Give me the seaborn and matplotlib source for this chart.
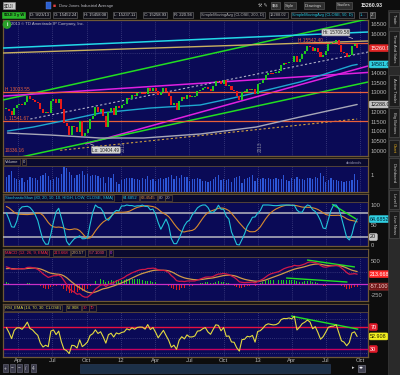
import numpy as np
import pandas as pd
import matplotlib
matplotlib.use("Agg")
import matplotlib.pyplot as plt
import matplotlib.dates as mdates
import matplotlib.transforms as mtransforms
from matplotlib.patches import Rectangle
import seaborn as sns

# ---------------- data (weekly $DJI) ----------------
warmup_close = [10448, 10462, 10608, 10860, 10830, 11006, 11062, 11133, 11118,
                11444, 11192, 11204, 11092, 11382, 11410, 11492, 11573, 11578,
                11675, 11787, 11871, 11824, 12092, 12273, 12391, 12130]
first_open = 12130.45
weekly_close = [
    # 2011
    12170, 12044, 11858, 12221, 12376, 12380, 12341, 12505, 12811, 12638, 12596,
    12512, 12441, 12151, 11952, 12004, 11934, 12582, 12657, 12479, 12681, 12143,
    11444, 11269, 10817, 11284, 11240, 10992, 11509, 10771, 10913, 11103, 11644,
    11809, 12231, 11983, 12153, 11796, 11231, 12019, 12184, 11866, 12294, 12218,
    # 2012
    12360, 12422, 12720, 12660, 12862, 12801, 12950, 12983, 12978, 12922, 13233,
    13081, 13212, 13060, 12850, 13029, 13228, 13038, 12820, 12369, 12455, 12119,
    12554, 12767, 12640, 12880, 12772, 12777, 12822, 13075, 13096, 13207, 13275,
    13157, 13090, 13306, 13593, 13579, 13437, 13610, 13328, 13343, 13107, 13093,
    12815, 12588, 13010, 13026, 13155, 13135, 13190, 12938,
    # 2013
    13435, 13488, 13650, 13896, 14010, 13993, 13981, 14001, 14090, 14397, 14515,
    14512, 14579, 14565, 14865, 14547, 14712, 14974, 15118, 15354, 15303, 15116,
    15248, 15070, 14800, 14910, 15135, 15464, 15544, 15559, 15659, 15425, 15081,
    15010, 14810, 14922, 15376, 15452, 15258.93]
weekly_volume = [
    6.0, 7.2, 8.5, 5.8, 5.5, 5.0, 5.6, 4.2, 5.0, 6.2, 5.8, 5.9, 4.8, 6.5, 7.0,
    7.8, 6.4, 5.0, 5.4, 6.0, 5.8, 7.5, 10.5, 9.8, 8.4, 6.8, 5.6, 6.8, 7.4, 8.6,
    7.0, 7.6, 6.4, 6.9, 7.2, 6.6, 5.6, 6.0, 3.8, 6.2, 5.8, 7.4, 4.0, 3.2,
    5.0, 5.4, 5.9, 5.6, 5.8, 5.5, 5.2, 4.8, 5.6, 5.4, 6.6, 5.0, 5.2, 4.6, 5.4,
    5.6, 5.2, 5.8, 6.0, 7.2, 5.4, 6.4, 5.8, 6.8, 6.0, 6.2, 4.6, 5.2, 5.4, 5.8,
    5.4, 4.6, 4.4, 4.2, 4.6, 5.2, 6.0, 6.8, 5.0, 5.2, 4.8, 5.4, 4.2, 5.6, 6.0,
    6.4, 3.8, 5.4, 5.6, 6.2, 7.0, 4.4,
    5.6, 5.2, 5.8, 5.4, 5.6, 5.2, 5.4, 5.6, 5.2, 5.4, 6.8, 5.0, 4.4, 5.6, 5.2,
    6.2, 5.2, 5.4, 5.0, 5.6, 5.8, 5.2, 6.0, 5.8, 8.0, 6.4, 4.2, 5.0, 5.6, 4.8,
    5.0, 4.4, 4.6, 4.2, 4.4, 4.6, 4.8, 7.6, 5.0]

sma50_dates = ['2011-03-03', '2011-05-11', '2011-08-10', '2011-11-06', '2012-03-19',
               '2012-07-30', '2012-10-26', '2013-01-25', '2013-04-23', '2013-09-09',
               '2013-09-23']
sma50_vals = [11022, 11226, 11585, 11943, 12199, 12353, 12711, 13120, 13530, 14380, 14430]
sma200_dates = ['2011-03-03', '2011-06-25', '2011-11-06', '2012-03-01', '2012-07-30',
                '2012-12-27', '2013-04-23', '2013-09-23']
sma200_vals = [10919, 10817, 10663, 10663, 10868, 11226, 11738, 12380]

# drawn trendlines: (dates, prices)
cyan_trend = (['2011-02-19', '2013-10-22'], [15270, 16090])
tan_trend = (['2011-02-19', '2013-10-22'], [15015, 15630])
green_upper = (['2011-02-19', '2013-10-22'], [12610, 16760])
magenta_upper = (['2011-02-19', '2013-10-22'], [12810, 14020])
magenta_lower = (['2011-09-27', '2013-10-22'], [10356, 14350])
green_lower = (['2011-02-19', '2013-10-22'], [9490, 13530])
tan_dashed = (['2011-07-22', '2013-09-23'], [10034, 11636])
gray_dashed = (['2011-05-03', '2013-10-22'], [11636, 15066])
level_high_recent = (['2013-04-17', '2013-10-22'], [15542.40, 15542.40])
level_high_old = 13033.55
level_low_old = 11541.67
hi_point = ('2013-09-18', 15709.58)
lo_point = ('2011-10-04', 10404.49)
stoch_trend = (['2013-07-18', '2013-09-20'], [102, 65])
macd_trend_1 = (['2013-05-12', '2013-09-17'], [522, 370])
macd_trend_2 = (['2013-03-17', '2013-08-28'], [130, 43])
rsi_trend = (['2013-03-30', '2013-09-26'], [90, 66])

quarter_dates = ['2011-04-01', '2011-07-01', '2011-10-01', '2012-01-01', '2012-04-01',
                 '2012-07-01', '2012-10-01', '2013-01-01', '2013-04-01', '2013-07-01',
                 '2013-10-01']
quarter_labels = ['Apr', 'Jul', 'Oct', '12', 'Apr', 'Jul', 'Oct', '13', 'Apr', 'Jul', 'Oct']
price_ticks = [16500, 16000, 14000, 13500, 13000, 12000, 11500, 11000, 10500, 10000]

# ---------------- style ----------------
sns.set_style("dark")
plt.rcParams['font.family'] = ['Liberation Sans', 'DejaVu Sans']
plt.rcParams['axes.grid'] = False

W, H = 400, 375
BGC = '#0d0d0d'
NAVY = '#0a0a56'
BORDER = '#6e5836'
GRID = '#5a5a96'
TICK = '#b4b4b4'
HDR = '#0a0a2e'

fig = plt.figure(figsize=(W / 100, H / 100), dpi=100, facecolor=BGC)


def prect(x0, y0, x1, y1):
    return [x0 / W, 1 - y1 / H, (x1 - x0) / W, (y1 - y0) / H]


def fx(x):
    return x / W


def fy(y):
    return 1 - y / H


def dn(d):
    return mdates.date2num(pd.to_datetime(d))


X0, X1 = dn('2011-02-19'), dn('2013-10-22')
dates = pd.date_range('2011-02-28', periods=len(weekly_close), freq='W-MON')
warm_dates = pd.date_range(end='2011-02-21', periods=len(warmup_close), freq='W-MON')
xs = mdates.date2num(dates)
qx = dn(quarter_dates)

# indicators computed from the closes
close_all = pd.Series(warmup_close + weekly_close, index=warm_dates.append(dates), dtype=float)
lo_r = close_all.rolling(10, min_periods=1).min()
hi_r = close_all.rolling(10, min_periods=1).max()
fastk = 100 * (close_all - lo_r) / (hi_r - lo_r).replace(0, np.nan)
slowk = fastk.rolling(3, min_periods=1).mean()
slowd = slowk.rolling(10, min_periods=1).mean()
ema12 = close_all.ewm(span=12, adjust=False).mean()
ema26 = close_all.ewm(span=26, adjust=False).mean()
macd_val = ema12 - ema26
macd_avg = macd_val.ewm(span=9, adjust=False).mean()
macd_diff = macd_val - macd_avg
chg = close_all.diff().fillna(0)
rsi = 50 * (chg.ewm(span=14, adjust=False).mean() / chg.abs().ewm(span=14, adjust=False).mean() + 1)
n0 = len(warmup_close)
slowk, slowd = slowk.iloc[n0:].values, slowd.iloc[n0:].values
macd_val, macd_avg, macd_diff = macd_val.iloc[n0:].values, macd_avg.iloc[n0:].values, macd_diff.iloc[n0:].values
rsi = rsi.iloc[n0:].values


def style_panel(ax, ylim, ygrid):
    ax.set_facecolor(NAVY)
    ax.set_xlim(X0, X1)
    ax.set_ylim(*ylim)
    for s in ax.spines.values():
        s.set_color(BORDER)
        s.set_linewidth(0.9)
    ax.yaxis.tick_right()
    ax.tick_params(axis='y', colors=TICK, labelsize=4.2, length=0, pad=2)
    ax.set_xticks(qx)
    ax.set_xticklabels([])
    ax.tick_params(axis='x', length=0, labelbottom=False)
    ax.grid(axis='x', which='major', color=GRID, ls=(0, (1, 2)), lw=0.5)
    ax.set_yticks(ygrid, minor=True)
    ax.tick_params(axis='y', which='minor', length=0)
    ax.grid(axis='y', which='minor', color=GRID, ls=(0, (1, 2)), lw=0.5)


def tag(ax, y, text, fc, tc, ec=None):
    tr = mtransforms.blended_transform_factory(ax.transAxes, ax.transData)
    ax.text(1.006, y, text, transform=tr, fontsize=3.9, color=tc, va='center', ha='left',
            clip_on=False, zorder=20,
            bbox=dict(boxstyle='round,pad=0.18,rounding_size=0.25', fc=fc, ec=ec or fc, lw=0.4))


def hbox(x, y, s, color, fc=HDR, ec=BORDER, size=3.0, weight='normal'):
    fig.text(fx(x), fy(y), s, fontsize=size, color=color, va='center', ha='left', weight=weight,
             bbox=dict(boxstyle='square,pad=0.25', fc=fc, ec=ec, lw=0.4), zorder=30)


def strip(ax, h_px, panel_h_px):
    ax.add_patch(Rectangle((0, 1 - h_px / panel_h_px), 1, h_px / panel_h_px, transform=ax.transAxes,
                           fc=HDR, ec=BORDER, lw=0.5, zorder=6))


def tline(ax, seg, color, lw=1.0, ls='-'):
    ax.plot(dn(seg[0]), seg[1], color=color, lw=lw, ls=ls, zorder=3, solid_capstyle='butt')


# ---------------- price panel ----------------
ax_p = fig.add_axes(prect(3, 20, 368, 156))
style_panel(ax_p, (9742, 16705), [16000, 15000, 14000, 13000, 12000, 11000, 10000])
ax_p.set_yticks(price_ticks)
ax_p.set_yticklabels([str(t) for t in price_ticks])

tline(ax_p, green_upper, '#22dd22', 1.1)
tline(ax_p, cyan_trend, '#22d8e8', 1.1)
tline(ax_p, tan_trend, '#c8b060', 1.0)
tline(ax_p, magenta_upper, '#e020e0', 1.1)
tline(ax_p, magenta_lower, '#e020e0', 1.1)
tline(ax_p, green_lower, '#22dd22', 1.1)
tline(ax_p, tan_dashed, '#d0a040', 0.8, (0, (2, 2)))
tline(ax_p, gray_dashed, '#b0b0c8', 0.8, (0, (2, 2)))
ax_p.axhline(level_high_old, color='#e8603a', lw=0.9, zorder=3)
ax_p.axhline(level_low_old, color='#e8603a', lw=0.9, zorder=3)
tline(ax_p, level_high_recent, '#e8603a', 0.9)
sns.lineplot(x=dn(sma50_dates), y=sma50_vals, ax=ax_p, color='#1ea8d0', lw=1.0, legend=False, zorder=3)
sns.lineplot(x=dn(sma200_dates), y=sma200_vals, ax=ax_p, color='#a8a8b8', lw=1.0, legend=False, zorder=3)

opens = np.array([first_open] + weekly_close[:-1], dtype=float)
closes = np.array(weekly_close, dtype=float)
up = closes >= opens
body = np.where(np.abs(closes - opens) < 45, np.where(up, 45, -45), closes - opens)
ax_p.bar(xs, body, bottom=opens, width=5.4, color=np.where(up, '#1ec81e', '#e81a1a'), lw=0, zorder=4)

ax_p.text(0.005, level_high_old, 'H 13033.55', color='#e8603a', fontsize=3.4, va='bottom', ha='left',
          transform=mtransforms.blended_transform_factory(ax_p.transAxes, ax_p.transData), zorder=8)
ax_p.text(0.005, level_low_old, 'L 11541.67', color='#e8603a', fontsize=3.4, va='bottom', ha='left',
          transform=mtransforms.blended_transform_factory(ax_p.transAxes, ax_p.transData), zorder=8)
ax_p.text(dn(level_high_recent[0][0]), level_high_recent[1][0], 'H 15542.40', color='#e8603a',
          fontsize=3.4, va='bottom', ha='left', zorder=8)
ax_p.text(0.005, 0.02, '10336.16', color='#e8603a', fontsize=3.4, va='bottom', ha='left',
          transform=ax_p.transAxes, zorder=8)

ax_p.annotate('Hi: 15709.58', xy=(dn(hi_point[0]), hi_point[1]), xytext=(-14, 5), textcoords='offset points',
              fontsize=3.3, color='#202020', ha='center', va='center', zorder=12,
              bbox=dict(boxstyle='round,pad=0.2', fc='#d4d4d4', ec='#909090', lw=0.4),
              arrowprops=dict(arrowstyle='-', color='#d0d0d0', lw=0.5))
ax_p.annotate('Lo: 10404.49', xy=(dn(lo_point[0]), lo_point[1]), xytext=(13, -5), textcoords='offset points',
              fontsize=3.3, color='#202020', ha='center', va='center', zorder=12,
              bbox=dict(boxstyle='round,pad=0.2', fc='#d4d4d4', ec='#909090', lw=0.4),
              arrowprops=dict(arrowstyle='-', color='#d0d0d0', lw=0.5))
for yr in ['2012', '2013']:
    ax_p.text(dn(yr + '-01-01'), 0.03, yr, rotation=90, color='#8a8aa0', fontsize=3.4,
              ha='left', va='bottom', transform=mtransforms.blended_transform_factory(ax_p.transData, ax_p.transAxes))

tag(ax_p, 15260.93, '15260.93', '#e02424', '#ffffff')
tag(ax_p, sma50_vals[-1], '14581.61', '#30d0e2', '#002030')
tag(ax_p, sma200_vals[-1], '12288.02', '#c4c4c4', '#101010')

fig.text(fx(7), fy(24.5), 'i', fontsize=3.4, color='white', weight='bold', ha='center', va='center',
         bbox=dict(boxstyle='circle,pad=0.25', fc='#2aa02a', ec='#2aa02a'))
fig.text(fx(11), fy(24.5), '2013 \u00a9 TD Ameritrade IP Company, Inc.', fontsize=3.0, color='#c0c0c8',
         ha='left', va='center')

# ---------------- volume panel ----------------
ax_v = fig.add_axes(prect(3, 158, 368, 192))
style_panel(ax_v, (0, 14), [])
ax_v.bar(xs, weekly_volume, width=3.2, color='#2c56d8', lw=0, zorder=4)
ax_v.set_yticks([7])
ax_v.set_yticklabels(['1'])
strip(ax_v, 8, 34)
ax_v.text(0.985, 0.86, 'dividends', transform=ax_v.transAxes, fontsize=2.8, color='#9090b0', ha='right',
          va='center', zorder=8)

# ---------------- stochastic panel ----------------
ax_s = fig.add_axes(prect(3, 194, 368, 246))
style_panel(ax_s, (-2.5, 127.5), [100, 50, 0])
ax_s.set_yticks([100, 50, 0])
ax_s.set_yticklabels(['100', '50', '0'])
ax_s.axhline(80, color='#b8b8c0', lw=1.1, zorder=3)
ax_s.axhline(20, color='#b8b8c0', lw=1.1, zorder=3)
sns.lineplot(x=xs, y=slowd, ax=ax_s, color='#d88a2e', lw=0.8, legend=False, zorder=4)
sns.lineplot(x=xs, y=slowk, ax=ax_s, color='#22c4d8', lw=0.8, legend=False, zorder=5)
tline(ax_s, stoch_trend, '#22e022', 1.0)
strip(ax_s, 8, 52)
tag(ax_s, 64.6852, '64.6852', '#30d0e2', '#002030')
tag(ax_s, 20, '20', '#c8c8c8', '#101010')

# ---------------- MACD panel ----------------
ax_m = fig.add_axes(prect(3, 249, 368, 301))
style_panel(ax_m, (-370, 761), [500, 250, -250])
ax_m.set_yticks([500, -250])
ax_m.set_yticklabels(['500', '-250'])
ax_m.bar(xs, macd_diff, width=2.6, color=np.where(macd_diff >= 0, '#22c822', '#e01c1c'), lw=0, zorder=3)
ax_m.axhline(0, color='#c830c8', lw=0.9, zorder=4)
sns.lineplot(x=xs, y=macd_avg, ax=ax_m, color='#d09a48', lw=0.9, legend=False, zorder=5)
sns.lineplot(x=xs, y=macd_val, ax=ax_m, color='#d01848', lw=0.9, legend=False, zorder=6)
tline(ax_m, macd_trend_1, '#22e022', 1.0)
tline(ax_m, macd_trend_2, '#22e022', 1.0)
strip(ax_m, 8, 52)
tag(ax_m, 213.668, '213.668', '#ff2828', '#ffffff')
tag(ax_m, -57.1, '-57.100', '#701818', '#ffd8d8', '#c04040')

# ---------------- RSI panel ----------------
ax_r = fig.add_axes(prect(3, 304, 368, 357))
style_panel(ax_r, (15.5, 111.8), [85, 50, 22])
ax_r.set_yticks([])
ax_r.axhline(70, color='#e81040', lw=1.0, zorder=3)
ax_r.axhline(30, color='#c80060', lw=1.0, zorder=3)
sns.lineplot(x=xs, y=rsi, ax=ax_r, color='#e2da40', lw=0.8, legend=False, zorder=5)
tline(ax_r, rsi_trend, '#22e022', 1.0)
strip(ax_r, 8, 53)
tag(ax_r, 70, '70', '#e01828', '#ffffff')
tag(ax_r, 52.908, '52.908', '#f2f020', '#202000')
tag(ax_r, 30, '30', '#e01828', '#ffffff')
ax_r.set_xticklabels(quarter_labels)
ax_r.tick_params(axis='x', labelbottom=True, labelsize=4.2, colors=TICK, pad=0.8)

# ---------------- panel headers ----------------
hbox(5, 162, 'Volume', '#c8c8c8')
hbox(23, 162, '0', '#c8c8c8')
hbox(5, 198, 'StochasticSlow (80, 20, 10, 10, HIGH, LOW, CLOSE, SMA)', '#22c8dc')
hbox(123, 198, '64.6852', '#22c8dc')
hbox(141, 198, '63.4545', '#e09038')
hbox(159, 198, '80', '#b0b0b0')
hbox(166, 198, '20', '#b0b0b0')
hbox(5, 253, 'MACD (12, 26, 9, EMA)', '#ff3040')
hbox(54, 253, '213.668', '#ff3040')
hbox(72, 253, '270.57', '#e0b060')
hbox(89, 253, '-57.1030', '#ff5060')
hbox(110, 253, '0', '#e040e0')
hbox(5, 308, 'RSI_EMA (14, 70, 30, CLOSE)', '#e8e040')
hbox(67, 308, '52.908', '#e8e040')
hbox(83, 308, '30', '#ff3040')
hbox(90, 308, '70', '#ff3040')

# ---------------- top toolbar / info row ----------------
fig.text(fx(4), fy(5.5), '$DJI', fontsize=3.4, color='#202020', va='center', ha='left',
         bbox=dict(boxstyle='square,pad=0.3', fc='#d0d0d0', ec='#909090', lw=0.4))
fig.patches.append(Rectangle((fx(46), fy(9)), fx(5), 7 / H, transform=fig.transFigure, fc='#2a60d0',
                             ec='#6080e0', lw=0.3))
fig.text(fx(53), fy(5.5), '\u25a0', fontsize=3.6, color='#e04040', va='center', ha='left')
fig.text(fx(59), fy(5.5), 'Dow Jones Industrial Average', fontsize=3.0, color='#b8b8c0', va='center', ha='left')
for x, s in [(272, '$$$'), (285, 'Style'), (305, 'Drawings'), (337, 'Studies')]:
    fig.text(fx(x), fy(5.5), s, fontsize=3.0, color='#d0d0d0', va='center', ha='left',
             bbox=dict(boxstyle='square,pad=0.3', fc='#2e2e2e', ec='#606060', lw=0.4))
fig.text(fx(258), fy(5.5), '\u2692 \u270e', fontsize=3.4, color='#c0c0c0', va='center', ha='left')
fig.text(fx(361), fy(5.5), '15260.93', fontsize=3.8, color='#e8e8e8', weight='bold', va='center', ha='left')

hbox(3.5, 15, '$DJI 3 y W', '#0a0a0a', fc='#2ab82a', ec='#2ab82a', size=3.0, weight='bold')
for x, s in [(30, 'D: 9/23/13'), (54, 'O: 15452.24'), (84, 'H: 15458.08'), (114, 'L: 15237.11'),
             (144, 'C: 15258.93'), (174, 'R: 220.94')]:
    hbox(x, 15, s, '#d0d0d0', fc='#101018', ec='#707070', size=3.0)
hbox(201, 15, 'SimpleMovingAvg (CLOSE, 200, D)', '#b0b0b0', fc='#101018', ec='#707070', size=2.9)
hbox(270, 15, '12288.02', '#b0b0b0', fc='#101018', ec='#707070', size=2.9)
hbox(292, 15, 'SimpleMovingAvg (CLOSE, 50, D)', '#22c8dc', fc='#101018', ec='#707070', size=2.9)
hbox(360, 15, '1...', '#22c8dc', fc='#101018', ec='#707070', size=2.9)
hbox(371, 15, 'Z', '#e0e0e0', fc='#303030', ec='#909090', size=3.0)

# ---------------- right tab strip ----------------
fig.patches.append(Rectangle((fx(388), 0), fx(12), fy(10), transform=fig.transFigure, fc='#2a2a2a',
                             ec='#444444', lw=0.4, zorder=1))
for (y0, y1, s, c) in [(12, 27, 'Trade', '#c8c8c8'), (31, 66, 'Time And Sales', '#c8c8c8'),
                       (75, 106, 'Active Trader', '#c8c8c8'), (108, 137, 'Big Buttons', '#c8c8c8'),
                       (140, 156, 'Chart', '#e8b020'), (158, 188, 'Dashboard', '#c8c8c8'),
                       (190, 209, 'Level II', '#c8c8c8'), (211, 238, 'Live News', '#c8c8c8')]:
    fig.patches.append(Rectangle((fx(389), fy(y1)), fx(10), (y1 - y0) / H, transform=fig.transFigure,
                                 fc='#1c1c1c', ec='#555555', lw=0.4, zorder=2))
    fig.text(fx(394), fy((y0 + y1) / 2), s, rotation=270, fontsize=3.0, color=c, ha='center', va='center',
             zorder=3)

# ---------------- bottom toolbar ----------------
for x, s in [(4, '+'), (11, '\u2212'), (18, '\u2212'), (25, '/'), (32, '4')]:
    fig.text(fx(x), fy(368), s, fontsize=3.4, color='#d0d0d0', va='center', ha='left',
             bbox=dict(boxstyle='square,pad=0.3', fc='#3a3a4a', ec='#707080', lw=0.4))
fig.patches.append(Rectangle((fx(80), fy(373)), fx(250), 9 / H, transform=fig.transFigure, fc='#1c3048',
                             ec='#2c4060', lw=0.4))
fig.text(fx(352), fy(368), '\u25b8', fontsize=3.6, color='#d0d0d0', va='center', ha='left')
fig.text(fx(359), fy(368), '\u25c2\u25b8', fontsize=3.6, color='#ffffff', va='center', ha='left',
         bbox=dict(boxstyle='square,pad=0.2', fc='#404050', ec='#808090', lw=0.4))

fig.savefig('out.png', dpi=100, facecolor=BGC)
